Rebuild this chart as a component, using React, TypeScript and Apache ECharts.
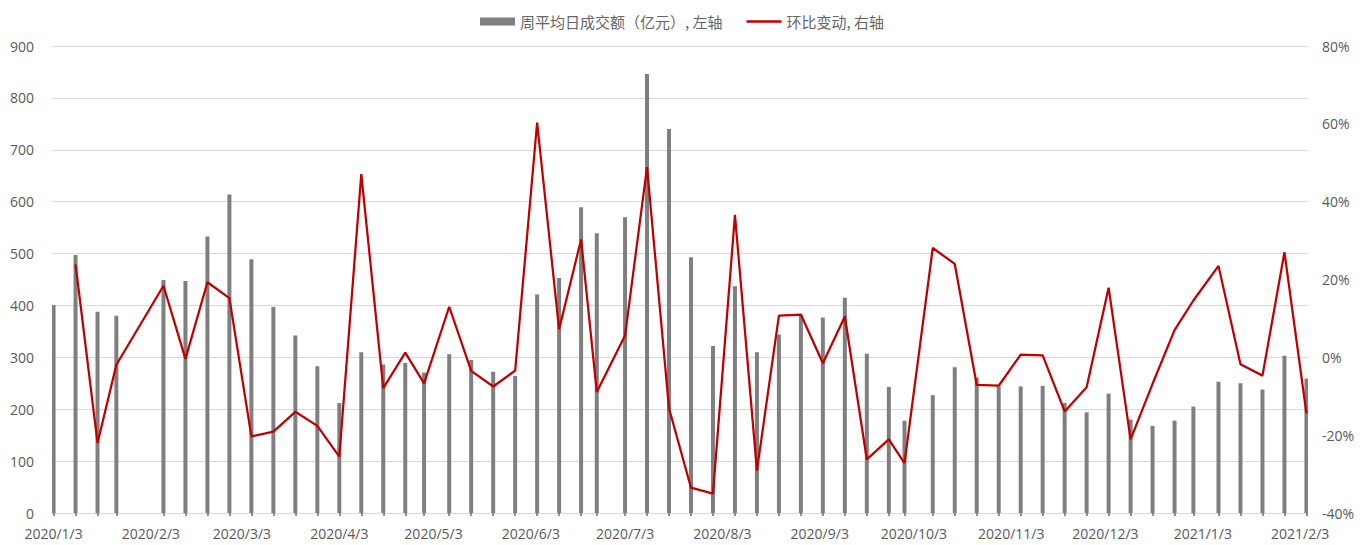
import React, { useEffect, useRef } from 'react';
import * as echarts from 'echarts';

// Weekly observation dates (last trading day of each week)
const weekDates = [
  '2020/1/3', '2020/1/10', '2020/1/17', '2020/1/23', '2020/2/7', '2020/2/14', '2020/2/21', '2020/2/28',
  '2020/3/6', '2020/3/13', '2020/3/20', '2020/3/27', '2020/4/3', '2020/4/10', '2020/4/17', '2020/4/24',
  '2020/4/30', '2020/5/8', '2020/5/15', '2020/5/22', '2020/5/29', '2020/6/5', '2020/6/12', '2020/6/19',
  '2020/6/24', '2020/7/3', '2020/7/10', '2020/7/17', '2020/7/24', '2020/7/31', '2020/8/7', '2020/8/14',
  '2020/8/21', '2020/8/28', '2020/9/4', '2020/9/11', '2020/9/18', '2020/9/25', '2020/9/30', '2020/10/9',
  '2020/10/16', '2020/10/23', '2020/10/30', '2020/11/6', '2020/11/13', '2020/11/20', '2020/11/27', '2020/12/4',
  '2020/12/11', '2020/12/18', '2020/12/25', '2020/12/31', '2021/1/8', '2021/1/15', '2021/1/22', '2021/1/29',
  '2021/2/5',
];

// 周平均日成交额（亿元）
const barValues = [
  401, 497, 388, 380, 449, 447, 533, 614, 489, 397,
  342, 283, 212, 310, 286, 289, 271, 306, 295, 272,
  264, 421, 453, 589, 539, 570, 846, 740, 493, 322,
  437, 310, 344, 381, 377, 415, 307, 243, 178, 227,
  281, 261, 244, 244, 245, 212, 194, 230, 180, 168,
  178, 205, 253, 250, 238, 303, 259,
];

// 环比变动 (%)
const changeValues = [
  null, 23.9, -22.0, -1.9, 18.4, -0.4, 19.3, 15.2, -20.3, -19.1,
  -14.0, -17.6, -25.5, 47.1, -7.9, 1.2, -6.7, 13.0, -3.5, -7.5,
  -3.4, 60.3, 7.2, 30.3, -8.9, 5.6, 48.9, -13.1, -33.5, -35.0,
  36.6, -29.1, 10.7, 11.0, -1.5, 10.5, -26.2, -21.1, -27.2, 28.1,
  24.0, -7.1, -7.3, 0.7, 0.5, -13.9, -7.7, 17.9, -21.1, -6.8,
  7.0, 14.6, 23.5, -1.8, -4.7, 27.0, -14.4,
];

const axisStart = '2020/1/3';
const axisEnd = '2021/2/5';
const barName = '周平均日成交额（亿元）, 左轴';
const lineName = '环比变动, 右轴';

function parseDate(s: string): number {
  const [y, m, d] = s.split('/').map(Number);
  return Date.UTC(y, m - 1, d);
}
function fmtDate(t: number): string {
  const dt = new Date(t);
  return `${dt.getUTCFullYear()}/${dt.getUTCMonth() + 1}/${dt.getUTCDate()}`;
}

const days: string[] = [];
for (let t = parseDate(axisStart); t <= parseDate(axisEnd); t += 86400000) days.push(fmtDate(t));

const barData: (number | null)[] = days.map(() => null);
const lineData: (number | null)[] = days.map(() => null);
weekDates.forEach((d, i) => {
  const idx = days.indexOf(d);
  if (idx >= 0) {
    barData[idx] = barValues[i];
    lineData[idx] = changeValues[i];
  }
});

export default function App() {
  const ref = useRef<HTMLDivElement>(null);
  useEffect(() => {
    if (!ref.current) return;
    const chart = echarts.init(ref.current, undefined, { renderer: 'svg' });
    const labelStyle = { color: '#595959', fontSize: 14, fontFamily: 'Open Sans' };
    chart.setOption({
      animation: false,
      textStyle: { fontFamily: 'Open Sans' },
      legend: {
        left: 475,
        top: 9,
        itemWidth: 35,
        itemHeight: 8,
        itemGap: 24,
        symbolKeepAspect: true,
        data: [
          { name: barName, icon: 'rect' },
          { name: lineName, icon: 'path://M0,0H35V2.5H0Z', itemStyle: { color: '#c00000' } },
        ],
        textStyle: { fontFamily: 'Noto Sans CJK SC', fontSize: 15, color: '#666666' },
      },
      grid: { left: 52, right: 57, top: 46, bottom: 32 },
      xAxis: {
        type: 'category',
        data: days,
        boundaryGap: true,
        axisLine: { lineStyle: { color: '#d9d9d9', width: 1 } },
        axisTick: {
          show: true,
          alignWithLabel: true,
          interval: (i: number) => barData[i] != null,
          length: 3,
          lineStyle: { color: '#8c8c8c', width: 2 },
        },
        axisLabel: {
          ...labelStyle,
          margin: 13,
          interval: (_i: number, v: string) => v.endsWith('/3'),
        },
        splitLine: { show: false },
      },
      yAxis: [
        {
          type: 'value',
          min: 0,
          max: 900,
          interval: 100,
          axisLine: { show: false },
          axisTick: { show: false },
          axisLabel: { ...labelStyle, margin: 18 },
          splitLine: { lineStyle: { color: '#d9d9d9', width: 1 } },
        },
        {
          type: 'value',
          min: -40,
          max: 80,
          interval: 20,
          axisLine: { show: false },
          axisTick: { show: false },
          axisLabel: { ...labelStyle, margin: 14, formatter: '{value}%' },
          splitLine: { show: false },
        },
      ],
      series: [
        {
          name: barName,
          type: 'bar',
          data: barData,
          barWidth: 4,
          itemStyle: { color: '#7f7f7f' },
          yAxisIndex: 0,
        },
        {
          name: lineName,
          type: 'line',
          data: lineData,
          yAxisIndex: 1,
          connectNulls: true,
          symbol: 'none',
          lineStyle: { color: '#c00000', width: 2.25 },
          itemStyle: { color: '#c00000' },
        },
      ],
    });
    return () => chart.dispose();
  }, []);
  return (
    <div
      ref={ref}
      style={{ position: 'fixed', left: 0, top: 0, width: 1365, height: 545, background: '#ffffff' }}
    />
  );
}
